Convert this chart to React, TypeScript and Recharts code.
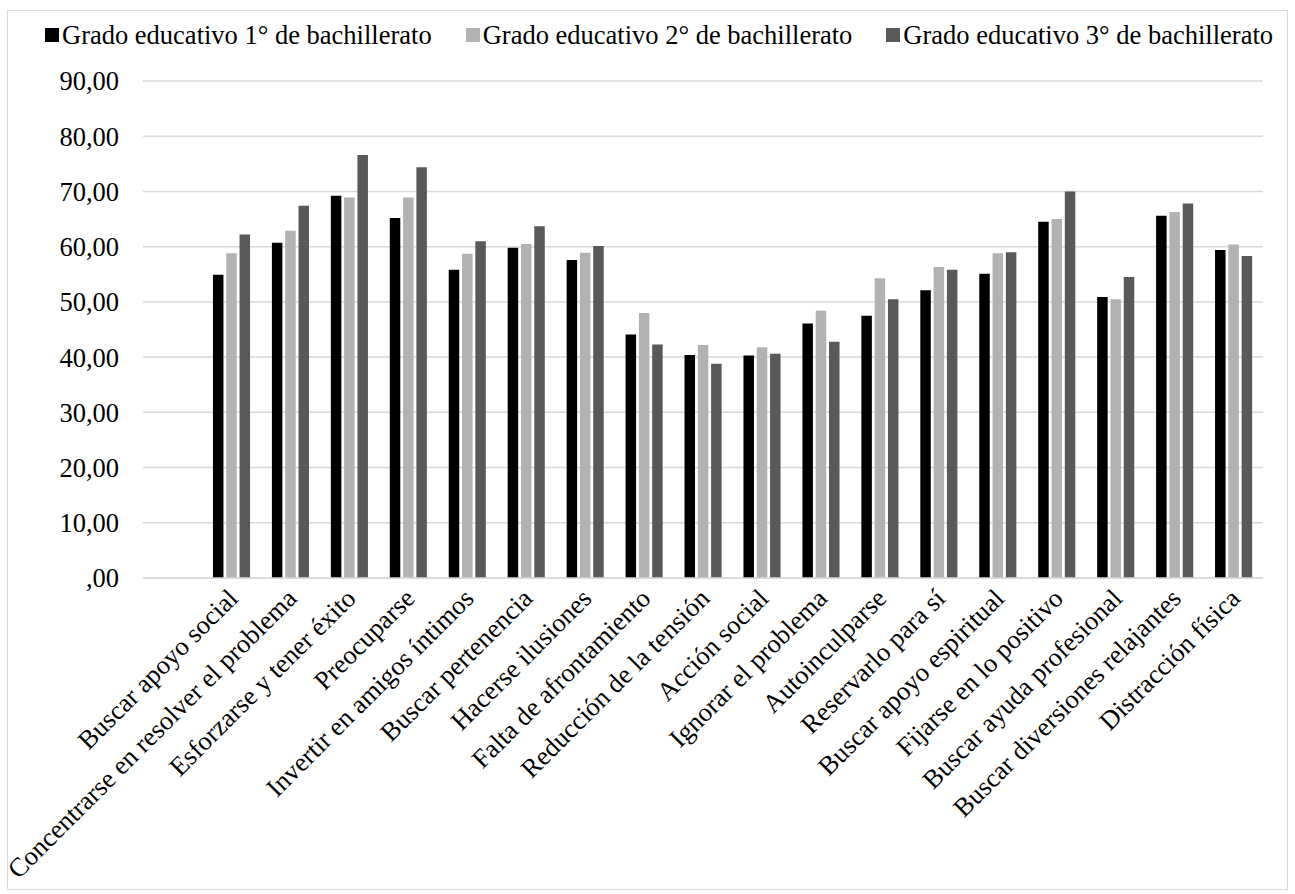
import React from "react";
import { BarChart, Bar, XAxis, YAxis, CartesianGrid } from "recharts";

const categories = [
  "",
  "Buscar apoyo social",
  "Concentrarse en resolver el problema",
  "Esforzarse y tener éxito",
  "Preocuparse",
  "Invertir en amigos íntimos",
  "Buscar pertenencia",
  "Hacerse ilusiones",
  "Falta de afrontamiento",
  "Reducción de la tensión",
  "Acción social",
  "Ignorar el problema",
  "Autoinculparse",
  "Reservarlo para sí",
  "Buscar apoyo espiritual",
  "Fijarse en lo positivo",
  "Buscar ayuda profesional",
  "Buscar diversiones relajantes",
  "Distracción física",
];

const grado1 = [null, 54.9, 60.7, 69.2, 65.2, 55.8, 59.8, 57.6, 44.1, 40.4, 40.3, 46.1, 47.5, 52.1, 55.1, 64.5, 50.9, 65.6, 59.4];
const grado2 = [null, 58.8, 62.9, 68.9, 68.9, 58.7, 60.5, 58.9, 48.0, 42.2, 41.8, 48.4, 54.3, 56.3, 58.8, 65.0, 50.5, 66.3, 60.4];
const grado3 = [null, 62.2, 67.4, 76.6, 74.4, 61.0, 63.7, 60.1, 42.3, 38.8, 40.6, 42.8, 50.5, 55.8, 59.0, 70.0, 54.5, 67.8, 58.3];

const seriesNames = [
  "Grado educativo 1° de bachillerato",
  "Grado educativo 2° de bachillerato",
  "Grado educativo 3° de bachillerato",
];
const seriesColors = ["#000000", "#b2b2b2", "#595959"];
const seriesKeys = ["g1", "g2", "g3"];

const yTicks = [0, 10, 20, 30, 40, 50, 60, 70, 80, 90];

const data = categories.map((name, i) => ({
  name,
  g1: grado1[i],
  g2: grado2[i],
  g3: grado3[i],
}));

const FONT = '"Liberation Serif", "Times New Roman", serif';
const FS = 26.5;

const fmt = (v: number) => (v === 0 ? ",00" : v.toFixed(2).replace(".", ","));

const XTick = (props: any) => {
  const { x, y, payload } = props;
  if (!payload.value) return null;
  const px = x + 8;
  const py = y + 14;
  return (
    <text
      x={px}
      y={py}
      transform={`rotate(-45, ${px}, ${py})`}
      textAnchor="end"
      fontFamily={FONT}
      fontSize={FS}
      fill="#000"
    >
      {payload.value}
    </text>
  );
};

export default function App() {
  return (
    <div style={{ position: "absolute", left: 0, top: 0, width: 1295, height: 894, background: "#fff" }}>
      <div
        style={{
          position: "absolute",
          left: 7,
          top: 10,
          width: 1281,
          height: 880,
          border: "1px solid #d9d9d9",
          boxSizing: "border-box",
        }}
      />
      <div
        style={{
          position: "absolute",
          left: 45,
          top: 19,
          display: "flex",
          alignItems: "center",
          fontFamily: FONT,
          fontSize: FS,
          lineHeight: "32px",
          color: "#000",
          whiteSpace: "nowrap",
        }}
      >
        {seriesNames.map((n, i) => (
          <div key={n} style={{ display: "flex", alignItems: "center", marginRight: 34 }}>
            <span style={{ display: "inline-block", width: 14, height: 14, background: seriesColors[i], marginRight: 3 }} />
            <span>{n}</span>
          </div>
        ))}
      </div>
      <div style={{ position: "absolute", left: 0, top: 0 }}>
        <BarChart
          width={1295}
          height={894}
          data={data}
          margin={{ top: 81, right: 32, bottom: 16, left: 0 }}
          barSize={10.5}
          barGap={2.8}
        >
          <CartesianGrid vertical={false} stroke="#d9d9d9" strokeWidth={1.5} />
          <YAxis
            domain={[0, 90]}
            ticks={yTicks}
            interval={0}
            width={143}
            tickLine={false}
            axisLine={false}
            tickMargin={18}
            tickFormatter={fmt}
            tick={{ fontFamily: FONT, fontSize: FS, fill: "#000" }}
          />
          <XAxis
            dataKey="name"
            interval={0}
            height={300}
            tickLine={false}
            axisLine={{ stroke: "#d9d9d9", strokeWidth: 1.5 }}
            tick={<XTick />}
          />
          {seriesKeys.map((k, i) => (
            <Bar key={k} dataKey={k} name={seriesNames[i]} fill={seriesColors[i]} isAnimationActive={false} />
          ))}
        </BarChart>
      </div>
    </div>
  );
}
